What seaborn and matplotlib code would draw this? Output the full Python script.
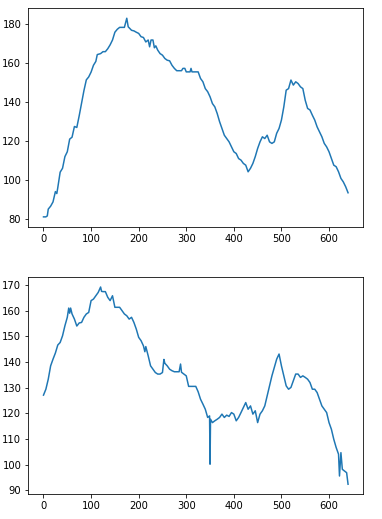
import matplotlib
matplotlib.use("Agg")
import matplotlib.pyplot as plt
import seaborn as sns
import numpy as np

top_x = [0, 5, 8, 10, 15, 20, 25, 28, 30, 33, 35, 40, 45, 50, 55, 60, 65, 70, 75, 80,
         85, 90, 95, 100, 105, 110, 113, 120, 125, 130, 135, 140, 145, 150, 155, 160, 170, 175, 178, 185,
         190, 195, 200, 205, 210, 215, 220, 223, 226, 230, 233, 236, 240, 245, 250, 255, 260, 265, 270, 275,
         280, 285, 290, 293, 297, 300, 308, 310, 312, 325, 330, 335, 340, 345, 350, 355, 360, 365, 370, 375,
         380, 385, 390, 395, 400, 405, 410, 415, 420, 425, 430, 435, 440, 445, 450, 455, 460, 465, 470, 475,
         480, 485, 490, 495, 500, 505, 510, 515, 520, 525, 530, 535, 540, 545, 550, 555, 560, 565, 570, 575,
         580, 585, 590, 595, 600, 605, 610, 615, 620, 625, 630, 635, 640]
top_y = [81, 81, 81.5, 85, 86.5, 88.7, 94, 93, 96, 101, 104, 106, 112, 114.5, 121, 122, 127.5, 127, 133, 139.5,
         146, 151.5, 153, 155.5, 159, 161, 164.5, 165, 166, 166, 167.5, 169.5, 172, 176, 177.5, 178.5, 178.5, 183.2, 178.8, 177,
         176.7, 176, 175.4, 173.7, 173.3, 171, 172, 168.5, 172, 172, 168, 169, 166.8, 165, 164.2, 162.5, 161.6, 161.3, 159, 157.4,
         156.2, 156.2, 156.2, 157.4, 157.4, 155.6, 155.6, 157.4, 155.6, 155.6, 152.2, 150.5, 147, 145.4, 142.8, 139.3, 137.6, 134.2, 130, 126.5,
         123, 121.3, 119.6, 117, 114.5, 113.6, 111, 110.2, 108.5, 107.6, 104.2, 106, 108.5, 112, 116.2, 119.6, 122.2, 121.3, 123, 119.6,
         118.8, 119.6, 124, 126.5, 130.8, 137.6, 146.2, 147, 151.4, 148.8, 150.5, 149.6, 147.9, 147, 141, 136.8, 136, 133.3, 130.8, 127.3,
         124.8, 122.2, 118.8, 117, 114.5, 111, 107.6, 106.8, 104.2, 100.8, 99, 96.5, 93.4]

bot_x = [0, 5, 10, 15, 20, 25, 30, 35, 40, 45, 50, 53, 55, 57, 60, 65, 70, 75, 80, 85,
         90, 95, 100, 105, 110, 115, 120, 122, 125, 130, 135, 140, 145, 150, 155, 160, 165, 170, 175, 180,
         185, 190, 195, 200, 205, 210, 213, 215, 220, 225, 230, 235, 240, 245, 250, 253, 255, 260, 265, 270,
         275, 280, 285, 288, 290, 295, 300, 305, 320, 325, 330, 335, 340, 345, 349, 350, 351, 355, 360, 365,
         370, 375, 380, 385, 390, 395, 400, 405, 410, 415, 420, 425, 430, 435, 440, 445, 450, 455, 460, 465,
         470, 475, 480, 485, 490, 495, 500, 505, 510, 515, 520, 525, 530, 535, 540, 545, 550, 555, 560, 565,
         570, 575, 580, 585, 590, 595, 600, 605, 610, 615, 620, 622, 625, 628, 632, 637, 640]
bot_y = [127.1, 129.4, 133.3, 138.5, 141.1, 143.5, 146.6, 147.6, 150.2, 154.1, 157.4, 161, 159, 161, 158.7, 156.7, 154, 155.2, 155.4, 157.4,
         158.7, 159.3, 163.9, 164.5, 165.8, 167.1, 169.2, 167.5, 167.4, 167.4, 165.2, 163.9, 165.8, 161.3, 161.3, 161.3, 160, 158.7, 158, 156.7,
         157.4, 155.4, 152.8, 149.6, 148.3, 146.3, 144, 146, 142.4, 138.5, 137.2, 135.9, 135.3, 135.3, 135.9, 141, 139.5, 138.5, 137.2, 136.6,
         136.2, 136.2, 136.2, 139.2, 136, 135.3, 134.6, 130.5, 130.5, 128.4, 125.5, 123.6, 121.6, 118.4, 119, 100.2, 117.7, 116.4, 117.1, 117.7,
         118.4, 119.7, 118.4, 119.3, 118.8, 120.3, 119.7, 117.1, 118.4, 120.3, 122.3, 124.2, 121.6, 122.9, 119.7, 121, 116.4, 119.7, 121, 122.9,
         126.8, 130.7, 134.6, 137.9, 141.1, 143.1, 138.5, 134.6, 130.7, 129.4, 130.1, 132.7, 135.3, 135.3, 134, 134.6, 134, 133.3, 132, 129.4,
         129.4, 128.1, 125.5, 122.9, 121.6, 120.3, 116.4, 113.8, 109.9, 106.7, 104.1, 95.6, 104.7, 98.2, 97.6, 96.9, 92.4]

dpi = 72
fig = plt.figure(figsize=(382 / dpi, 519 / dpi), dpi=dpi)
ax1 = fig.add_axes([0.074, 0.563, 0.877, 0.421])
ax2 = fig.add_axes([0.074, 0.048, 0.877, 0.418])

sns.lineplot(x=top_x, y=top_y, ax=ax1, color="#1f77b4", linewidth=1.5, estimator=None)
sns.lineplot(x=bot_x, y=bot_y, ax=ax2, color="#1f77b4", linewidth=1.5, estimator=None)

for ax in (ax1, ax2):
    ax.set_xticks([0, 100, 200, 300, 400, 500, 600])
    ax.tick_params(labelsize=10)
ax1.set_yticks([80, 100, 120, 140, 160, 180])
ax2.set_yticks([90, 100, 110, 120, 130, 140, 150, 160, 170])

fig.savefig("out.png", dpi=dpi)
